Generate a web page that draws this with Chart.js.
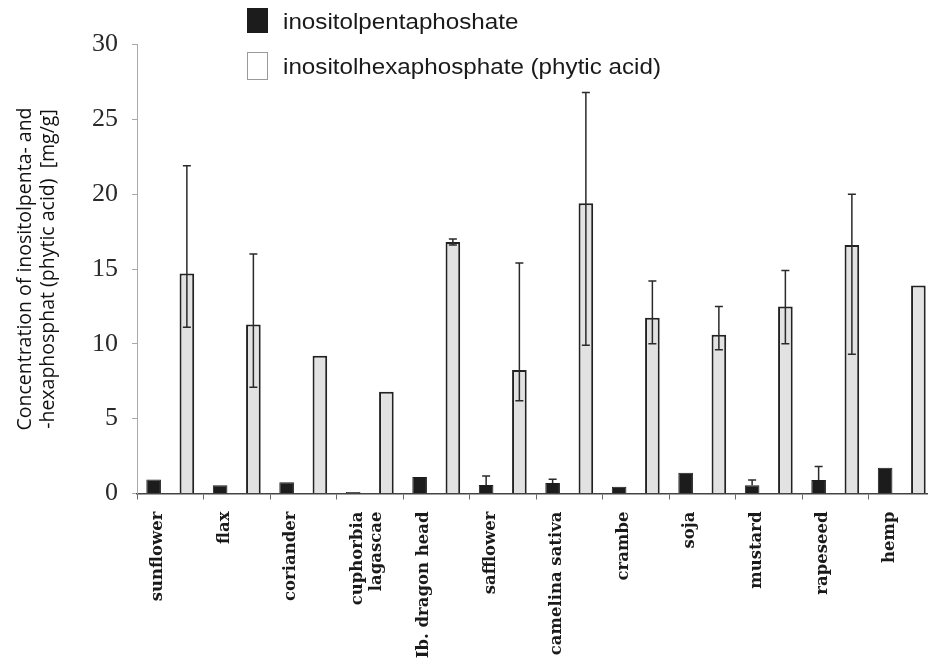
<!DOCTYPE html>
<html>
<head>
<meta charset="utf-8">
<script src="https://cdn.jsdelivr.net/npm/chart.js@4.4.1/dist/chart.umd.min.js"></script>
<style>
  html, body { margin: 0; padding: 0; background: #fff; overflow: hidden; }
  canvas { display: block; }
</style>
</head>
<body>
<canvas id="c" width="935" height="661"></canvas>
<script>
const categories = [
  'sunflower', 'flax', 'coriander', ['cuphorbia', 'lagascae'], 'Ib. dragon head',
  'safflower', 'camelina sativa', 'crambe', 'soja', 'mustard', 'rapeseed', 'hemp'
];
const seriesNames = ['inositolpentaphoshate', 'inositolhexaphosphate (phytic acid)'];

const pentaValues = [0.93, 0.55, 0.75, 0.1, 1.1, 0.57, 0.7, 0.45, 1.38, 0.55, 0.9, 1.72];
const pentaHigh   = [null, null, null, null, null, 1.17, 0.95, null, null, 0.9, 1.8, null];
const pentaLow    = [null, null, null, null, null, null, null, null, null, null, null, null];

const hexaValues = [14.7, 11.3, 9.2, 6.8, 16.8, 8.25, 19.4, 11.75, 10.6, 12.5, 16.6, 13.9];
const hexaHigh   = [21.9, 16.0, null, null, 17.0, 15.4, 26.8, 14.2, 12.5, 14.9, 20.0, null];
const hexaLow    = [11.1, 7.1, null, null, 16.6, 6.2, 9.9, 10.0, 9.6, 10.0, 9.3, null];

const yTicks = [0, 5, 10, 15, 20, 25, 30];
const yTitle = ['Concentration of inositolpenta- and', '-hexaphosphat (phytic acid)  [mg/g]'];

const errorBars = {
  id: 'errorBars',
  afterDatasetsDraw(chart) {
    const ctx = chart.ctx;
    const y = chart.scales.y;
    ctx.save();
    ctx.strokeStyle = '#2a2a2a';
    ctx.lineWidth = 1.5;
    chart.data.datasets.forEach((ds, di) => {
      const meta = chart.getDatasetMeta(di);
      meta.data.forEach((bar, i) => {
        const hi = ds.errHigh[i];
        if (hi == null) return;
        const lo = ds.errLow[i] != null ? ds.errLow[i] : ds.data[i];
        const x = bar.x;
        const yh = y.getPixelForValue(hi);
        const yl = y.getPixelForValue(lo);
        ctx.beginPath();
        ctx.moveTo(x, yh); ctx.lineTo(x, yl);
        ctx.moveTo(x - 4, yh); ctx.lineTo(x + 4, yh);
        if (ds.errLow[i] != null) { ctx.moveTo(x - 4, yl); ctx.lineTo(x + 4, yl); }
        ctx.stroke();
      });
    });
    ctx.restore();
  }
};

const customLegend = {
  id: 'customLegend',
  afterDraw(chart) {
    const ctx = chart.ctx;
    ctx.save();
    const rows = [
      { y: 8, h: 25, base: 29 },
      { y: 52, h: 27, base: 74 }
    ];
    chart.data.datasets.forEach((ds, i) => {
      const r = rows[i];
      if (i === 0) {
        ctx.fillStyle = '#1c1c1c';
        ctx.fillRect(247, r.y, 21, r.h);
      } else {
        ctx.fillStyle = '#ffffff';
        ctx.fillRect(247, r.y, 21, r.h);
        ctx.strokeStyle = '#9a9a9a';
        ctx.lineWidth = 1;
        ctx.strokeRect(247.5, r.y + 0.5, 20, r.h);
      }
      ctx.fillStyle = '#1a1a1a';
      ctx.font = '22px "Liberation Sans", Arial, sans-serif';
      ctx.textBaseline = 'alphabetic';
      ctx.textAlign = 'left';
      ctx.save();
      ctx.translate(283, r.base);
      ctx.scale(1.1, 1);
      ctx.fillText(ds.label, 0, 0);
      ctx.restore();
    });
    ctx.restore();
  }
};

new Chart(document.getElementById('c'), {
  type: 'bar',
  data: {
    labels: categories,
    datasets: [
      {
        label: seriesNames[0],
        data: pentaValues,
        errHigh: pentaHigh,
        errLow: pentaLow,
        backgroundColor: '#1c1c1c',
        borderColor: '#1c1c1c',
        borderWidth: 1,
        categoryPercentage: 1.0,
        barPercentage: 0.44
      },
      {
        label: seriesNames[1],
        data: hexaValues,
        errHigh: hexaHigh,
        errLow: hexaLow,
        backgroundColor: '#e2e2e2',
        borderColor: '#222',
        borderWidth: 2,
        categoryPercentage: 1.0,
        barPercentage: 0.44
      }
    ]
  },
  options: {
    responsive: false,
    animation: false,
    devicePixelRatio: 1,
    layout: { padding: { top: 44.5, right: 0, left: 0, bottom: 0 } },
    plugins: {
      legend: { display: false },
      tooltip: { enabled: false }
    },
    scales: {
      x: {
        offset: true,
        grid: {
          display: true,
          drawOnChartArea: false,
          drawTicks: true,
          tickLength: 6,
          color: '#666',
          lineWidth: 1
        },
        border: { display: true, color: '#444', width: 1.5 },
        ticks: {
          autoSkip: false,
          maxRotation: 90,
          minRotation: 90,
          padding: 12,
          labelOffset: -12.5,
          color: '#1a1a1a',
          font: { family: '"DejaVu Serif", serif', size: 16.5, weight: 'bold', lineHeight: 1.15 }
        },
        afterFit(scale) { scale.height = 167.5; }
      },
      y: {
        min: 0,
        max: 30,
        afterBuildTicks(scale) { scale.ticks = yTicks.map(v => ({ value: v })); },
        grid: {
          display: true,
          drawOnChartArea: false,
          drawTicks: true,
          tickLength: 5,
          color: '#aaa'
        },
        border: { display: true, color: '#aaa', width: 1 },
        ticks: {
          padding: 14,
          color: '#2a2a2a',
          font: { family: '"Liberation Serif", serif', size: 26 }
        },
        title: {
          display: true,
          text: yTitle,
          color: '#111',
          padding: { top: 13.5, bottom: 0 },
          font: { family: '"Open Sans", sans-serif', size: 19.5, lineHeight: 1.18 }
        },
        afterFit(scale) { scale.width = 137; }
      }
    }
  },
  plugins: [errorBars, customLegend]
});
</script>
</body>
</html>
